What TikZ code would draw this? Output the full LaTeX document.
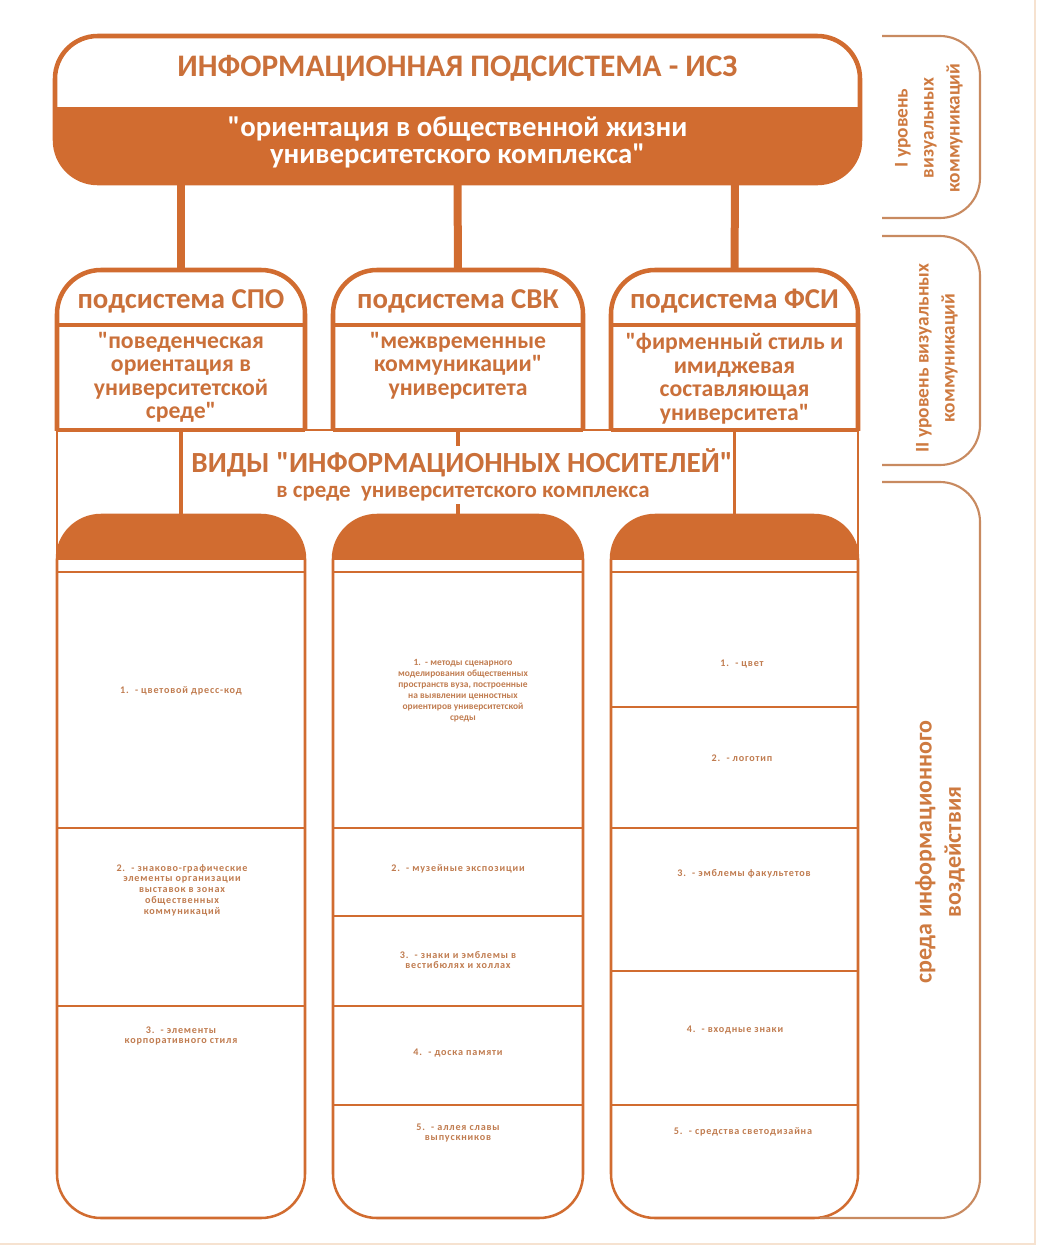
\documentclass[tikz,border=0pt]{standalone}
\usepackage{fontspec}
\setmainfont{Carlito}[Ligatures=TeXOff]
\definecolor{orng}{RGB}{209,108,48}
\definecolor{ttl}{RGB}{202,112,58}
\definecolor{sidec}{RGB}{206,122,64}
\definecolor{brk}{RGB}{200,138,96}
\definecolor{smallc}{RGB}{192,124,80}
\definecolor{frame}{RGB}{246,226,208}
\begin{document}
\begin{tikzpicture}[x=0.75pt,y=-0.75pt,
  thickbox/.style={draw=orng,line width=3.4pt},
  colbox/.style={draw=orng,line width=1.9pt},
  thinline/.style={draw=orng,line width=1.4pt},
  bigconn/.style={draw=orng,line width=6pt},
  midconn/.style={draw=orng,line width=2.4pt},
  brkline/.style={draw=brk,line width=1.6pt,rounded corners=30pt},
  ttltext/.style={text=ttl,font=\bfseries\fontsize{23.5}{28}\selectfont,inner sep=0pt},
  whitetext/.style={text=white,font=\bfseries\fontsize{21.6}{20.4}\selectfont,align=center,inner sep=0pt},
  headtext/.style={text=ttl,font=\bfseries\fontsize{21.6}{24}\selectfont,inner sep=0pt},
  bodytext/.style={text=ttl,font=\bfseries\fontsize{17.8}{17.6}\selectfont,align=center,inner sep=0pt},
  smalltext/.style={text=smallc,font=\bfseries\fontsize{7.6}{8.1}\selectfont\addfontfeature{LetterSpace=8},align=center,inner sep=0pt},
  smalltextb/.style={text=smallc,font=\bfseries\fontsize{7.1}{8.25}\selectfont,align=center,inner sep=0pt},
  sidetext/.style={text=sidec,font=\bfseries\fontsize{14.5}{19.5}\selectfont,align=center,inner sep=0pt,rotate=90},
  sidetextb/.style={text=sidec,font=\bfseries\fontsize{18}{22}\selectfont,align=center,inner sep=0pt,rotate=90}
]
\useasboundingbox (0,0) rectangle (1038,1246);
% faint page frame
\draw[frame,line width=1.5pt] (1035,0) -- (1035,1244) -- (0,1244);

% ---------- top box ----------
\begin{scope}
  \clip[rounded corners=32pt] (55,36) rectangle (860,183);
  \fill[orng] (50,107) rectangle (865,190);
\end{scope}
\draw[thickbox,rounded corners=32pt] (55,36) rectangle (860,183);
\node[ttltext] (isz) at (457.5,68) {ИНФОРМАЦИОННАЯ ПОДСИСТЕМА - ИСЗ};
\node[whitetext] (iszsub) at (457.5,142) {"ориентация в общественной жизни\\университетского комплекса"};
\coordinate (isz1) at (181,183);
\coordinate (isz2) at (457.5,183);
\coordinate (isz3) at (735,183);

% ---------- big rectangle (виды) ----------
\draw[thinline] (57,560) -- (57,430) -- (858,430) -- (858,560);

% ---------- subsystem boxes ----------
\foreach \l/\r in {57/305,333/583,611/858}{
  \begin{scope}
    \clip (\l-10,255) rectangle (\r+10,430);
    \draw[thickbox,rounded corners=33pt] (\l,270) rectangle (\r,500);
  \end{scope}
  \draw[thickbox] (\l,430) -- (\r,430);
  \draw[draw=orng,line width=2.6pt] (\l,325) -- (\r,325);
}
\coordinate (spoT) at (181,270);   \coordinate (spoB) at (181,430);
\coordinate (svkT) at (458,270);   \coordinate (svkB) at (458,430);
\coordinate (fsiT) at (734.5,270); \coordinate (fsiB) at (734.5,430);

\node[headtext] (spoH) at (181,301) {подсистема СПО};
\node[headtext] (svkH) at (458,301) {подсистема СВК};
\node[headtext] (fsiH) at (734.5,301) {подсистема ФСИ};
\node[bodytext,anchor=north] (spoD) at (181,332) {"поведенческая\\ориентация в\\университетской\\среде"};
\node[bodytext,anchor=north] (svkD) at (458,332) {"межвременные\\коммуникации"\\университета};
\node[bodytext,anchor=north] (fsiD) at (734.5,333.5) {"фирменный стиль и\\имиджевая\\составляющая\\университета"};

% connectors top
\draw[bigconn] (isz1) -- (spoT);
\draw[bigconn] (isz2) -- (svkT);
\draw[bigconn] (isz3) -- (fsiT);

% ---------- виды text ----------
\node[text=ttl,font=\bfseries\fontsize{21.9}{24}\selectfont,inner sep=0pt] (vidy) at (462,463) {ВИДЫ "ИНФОРМАЦИОННЫХ НОСИТЕЛЕЙ"};
\node[text=ttl,font=\bfseries\fontsize{17.2}{19}\selectfont,inner sep=0pt] (vidy2) at (463,494) {в среде \ университетского комплекса};

% ---------- columns ----------
\foreach \l/\r in {57/305,333/583,611/858}{
  \begin{scope}
    \clip[rounded corners=33pt] (\l,515) rectangle (\r,1218);
    \fill[orng] (\l-5,510) rectangle (\r+5,560);
  \end{scope}
  \draw[colbox,rounded corners=33pt] (\l,515) rectangle (\r,1218);
  \draw[colbox] (\l,572) -- (\r,572);
}
\coordinate (c1T) at (181,515);
\coordinate (c2T) at (458,515);
\coordinate (c3T) at (734.5,515);

% connectors middle
\draw[midconn] (spoB) -- (c1T);
\draw[midconn] (svkB) -- ([yshift=2pt]vidy.north -| svkB);
\draw[midconn] ([yshift=-2pt]vidy2.south -| c2T) -- (c2T);
\draw[midconn] (fsiB) -- (c3T);

% dividers
\foreach \y in {828,1006}{\draw[colbox] (57,\y) -- (305,\y);}
\foreach \y in {828,916,1006,1105}{\draw[colbox] (333,\y) -- (583,\y);}
\foreach \y in {707,828,971,1105}{\draw[colbox] (611,\y) -- (858,\y);}

% column 1 texts
\node[smalltext] (c1a) at (181,691) {1.\ \ - цветовой дресс-код};
\node[smalltext] (c1b) at (182,890) {2.\ \ - знаково-графические\\элементы организации\\выставок в зонах\\общественных\\коммуникаций};
\node[smalltext] (c1c) at (181,1036) {3.\ \ - элементы\\корпоративного стиля};
% column 2 texts
\node[smalltextb] (c2a) at (463,691) {1.\ \ - методы сценарного\\моделирования общественных\\пространств вуза, построенные\\на выявлении ценностных\\ориентиров университетской\\среды};
\node[smalltext] (c2b) at (458,869) {2.\ \ - музейные экспозиции};
\node[smalltext] (c2c) at (458,960) {3.\ \ - знаки и эмблемы в\\вестибюлях и холлах};
\node[smalltext] (c2d) at (458,1053) {4.\ \ - доска памяти};
\node[smalltext] (c2e) at (458,1133) {5.\ \ - аллея славы\\выпускников};
% column 3 texts
\node[smalltext] (c3a) at (742,664) {1.\ \ - цвет};
\node[smalltext] (c3b) at (742,758) {2.\ \ - логотип};
\node[smalltext] (c3c) at (744,874) {3.\ \ - эмблемы факультетов};
\node[smalltext] (c3d) at (735,1030) {4.\ \ - входные знаки};
\node[smalltext] (c3e) at (743,1132) {5.\ \ - средства светодизайна};

% ---------- right brackets ----------
\draw[brkline] (882,36) -- (980,36) -- (980,218) -- (882,218);
\draw[brkline] (882,236) -- (980,236) -- (980,465) -- (882,465);
\draw[brkline] (882,482) -- (980,482) -- (980,1218) -- (820,1218);
\node[sidetext] (lvl1) at (929,128) {I уровень\\визуальных\\коммуникаций};
\node[sidetext] (lvl2) at (937,358) {II уровень визуальных\\коммуникаций};
\node[sidetextb] (lvl3) at (940,852) {среда информационного\\воздействия};
\end{tikzpicture}
\end{document}
